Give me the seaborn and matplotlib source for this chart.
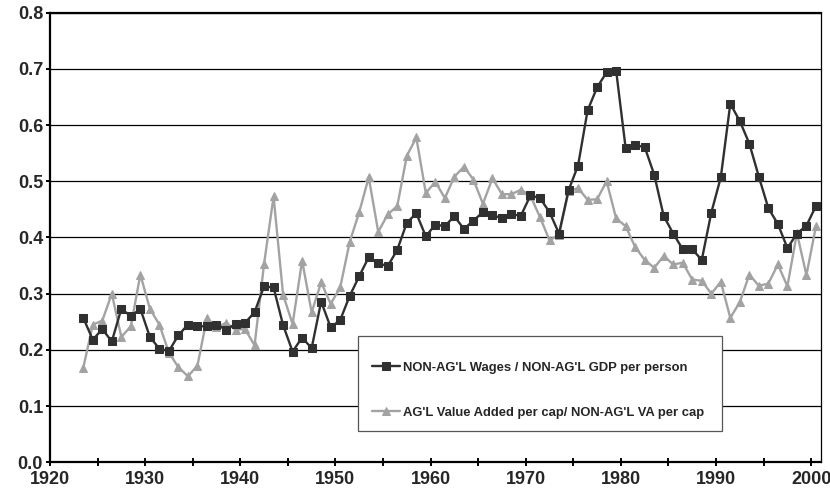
import numpy as np
import pandas as pd
import seaborn as sns
import matplotlib
matplotlib.use("Agg")
import matplotlib.pyplot as plt
from matplotlib.patches import Rectangle
from matplotlib.ticker import MultipleLocator, FormatStrFormatter

# anos 1923-2000 (pontos no meio do ano)
anos = np.arange(1923, 2001)

# NON-AG'L Wages / NON-AG'L GDP per person
salarios = [0.257, 0.218, 0.237, 0.215, 0.273, 0.260, 0.273, 0.223, 0.202, 0.198,
            0.226, 0.245, 0.242, 0.242, 0.245, 0.236, 0.246, 0.248, 0.267, 0.313,
            0.311, 0.244, 0.197, 0.222, 0.203, 0.286, 0.240, 0.253, 0.296, 0.331,
            0.365, 0.354, 0.349, 0.378, 0.426, 0.443, 0.402, 0.423, 0.420, 0.438,
            0.415, 0.430, 0.445, 0.440, 0.434, 0.441, 0.439, 0.475, 0.470, 0.445,
            0.407, 0.484, 0.528, 0.626, 0.667, 0.694, 0.697, 0.559, 0.564, 0.561,
            0.512, 0.438, 0.407, 0.379, 0.379, 0.360, 0.444, 0.507, 0.638, 0.607,
            0.567, 0.508, 0.452, 0.424, 0.381, 0.407, 0.421, 0.456]

# AG'L Value Added per cap / NON-AG'L VA per cap
agricola = [0.168, 0.245, 0.252, 0.300, 0.223, 0.242, 0.334, 0.273, 0.245, 0.195,
            0.169, 0.153, 0.172, 0.257, 0.240, 0.248, 0.236, 0.237, 0.208, 0.353,
            0.473, 0.298, 0.246, 0.359, 0.267, 0.320, 0.282, 0.311, 0.392, 0.445,
            0.507, 0.410, 0.441, 0.456, 0.545, 0.578, 0.479, 0.499, 0.470, 0.508,
            0.526, 0.503, 0.460, 0.505, 0.477, 0.477, 0.485, 0.474, 0.436, 0.395,
            0.405, 0.482, 0.488, 0.467, 0.468, 0.500, 0.434, 0.420, 0.383, 0.360,
            0.346, 0.367, 0.352, 0.355, 0.325, 0.323, 0.300, 0.321, 0.257, 0.285,
            0.334, 0.314, 0.318, 0.352, 0.313, 0.408, 0.333, 0.420]

rotulos = ["NON-AG'L Wages / NON-AG'L GDP per person",
           "AG'L Value Added per cap/ NON-AG'L VA per cap"]

df = pd.DataFrame({"ano": anos + 0.5, "salarios": salarios, "agricola": agricola})

sns.set_style("white")
plt.rcParams["font.family"] = ["Liberation Sans", "DejaVu Sans"]
plt.rcParams["font.weight"] = "bold"

fig = plt.figure(figsize=(8.3, 4.91), dpi=100)
ax = fig.add_axes([0.0602, 0.0585, 0.9286, 0.9157])

escuro = "#303030"
cinza = "#a3a3a3"

sns.lineplot(data=df, x="ano", y="agricola", ax=ax, color=cinza, linewidth=1.7,
             marker="^", markersize=5.8, markeredgecolor=cinza, markerfacecolor=cinza,
             label=rotulos[1], zorder=3)
sns.lineplot(data=df, x="ano", y="salarios", ax=ax, color=escuro, linewidth=1.7,
             marker="s", markersize=5.2, markeredgecolor=escuro, markerfacecolor=escuro,
             label=rotulos[0], zorder=4)

ax.set_xlim(1920, 2001)
ax.set_ylim(0, 0.8)
ax.xaxis.set_major_locator(MultipleLocator(10))
ax.xaxis.set_minor_locator(MultipleLocator(5))
ax.yaxis.set_major_locator(MultipleLocator(0.1))
ax.yaxis.set_major_formatter(FormatStrFormatter("%.1f"))
ax.set_xlabel("")
ax.set_ylabel("")

ax.grid(axis="y", color="black", linewidth=0.9)
ax.grid(axis="x", visible=False)
ax.set_axisbelow(True)

for lado, lw in [("left", 1.6), ("bottom", 1.6), ("top", 1.6), ("right", 0.9)]:
    ax.spines[lado].set_visible(True)
    ax.spines[lado].set_color("black")
    ax.spines[lado].set_linewidth(lw)

ax.tick_params(axis="x", which="both", direction="inout", length=6, width=1.4,
               color="black", labelsize=13, pad=3.5, bottom=True)
ax.tick_params(axis="y", which="major", direction="out", length=3, width=1.4,
               color="black", labelsize=13, pad=2, left=True)
for t in ax.get_xticklabels() + ax.get_yticklabels():
    t.set_fontweight("bold")

# caixa da legenda
caixa = Rectangle((0.400, 0.0696), 0.4715, 0.2113, transform=ax.transAxes,
                  facecolor="white", edgecolor="#555555", linewidth=0.9, zorder=5)
ax.add_patch(caixa)

handles, labels = ax.get_legend_handles_labels()
ordem = [labels.index(r) for r in rotulos]
leg = ax.legend([handles[i] for i in ordem], [labels[i] for i in ordem],
                loc="upper left", bbox_to_anchor=(0.402, 0.25), frameon=False,
                labelspacing=2.5, handlelength=2.2, handletextpad=0.2,
                borderpad=0.4, numpoints=1, prop={"weight": "bold", "size": 9.4})
leg.set_zorder(6)

plt.savefig("out.png", dpi=100)
